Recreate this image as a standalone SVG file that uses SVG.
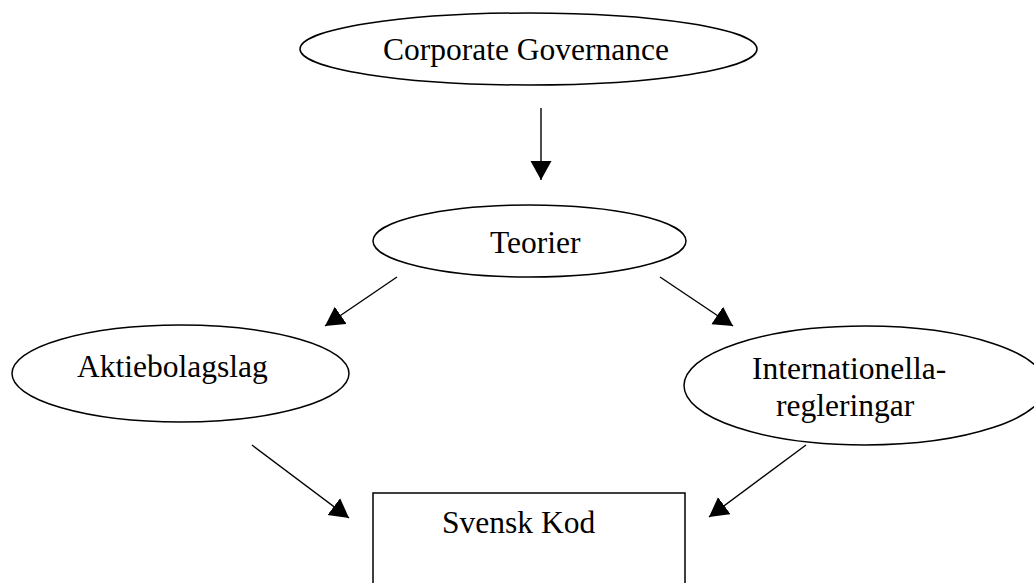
<svg xmlns="http://www.w3.org/2000/svg" width="1034" height="583" viewBox="0 0 1034 583">
  <style>
    .shape { fill: #ffffff; stroke: #000000; stroke-width: 1.5; }
    .label { font-family: "Liberation Serif", "Times New Roman", serif; font-size: 31.5px; fill: #000000; }
    .conn { stroke: #000000; stroke-width: 1.4; fill: none; marker-end: url(#arrow); }
  </style>
  <defs>
    <marker id="arrow" markerUnits="userSpaceOnUse" markerWidth="20" markerHeight="22" refX="19" refY="10.5" orient="auto">
      <path d="M0,0 L19,10.5 L0,21 Z" fill="#000000"/>
    </marker>
  </defs>
  <rect x="0" y="0" width="1034" height="583" fill="#ffffff"/>

  <g id="node-corporate-governance">
    <ellipse class="shape" cx="528.5" cy="49" rx="228.5" ry="36"/>
    <text class="label" x="383" y="59.5">Corporate Governance</text>
  </g>

  <g id="node-teorier">
    <ellipse class="shape" cx="529.5" cy="241" rx="156.5" ry="36"/>
    <text class="label" x="490" y="253">Teorier</text>
  </g>

  <g id="node-aktiebolagslag">
    <ellipse class="shape" cx="180.5" cy="373.5" rx="168.5" ry="48.5"/>
    <text class="label" x="77" y="377">Aktiebolagslag</text>
  </g>

  <g id="node-internationella">
    <ellipse class="shape" cx="865" cy="385.5" rx="181" ry="59.5"/>
    <text class="label" x="752" y="379">Internationella-</text>
    <text class="label" x="776" y="416">regleringar</text>
  </g>

  <g id="node-svensk-kod">
    <rect class="shape" x="373" y="493" width="312" height="100"/>
    <text class="label" x="442" y="533">Svensk Kod</text>
  </g>

  <g id="connectors">
    <line class="conn" x1="541" y1="108" x2="541" y2="180"/>
    <line class="conn" x1="397" y1="277" x2="325" y2="326"/>
    <line class="conn" x1="660" y1="277" x2="733" y2="326"/>
    <line class="conn" x1="252" y1="445" x2="349" y2="518"/>
    <line class="conn" x1="806" y1="445" x2="709" y2="517"/>
  </g>
</svg>
